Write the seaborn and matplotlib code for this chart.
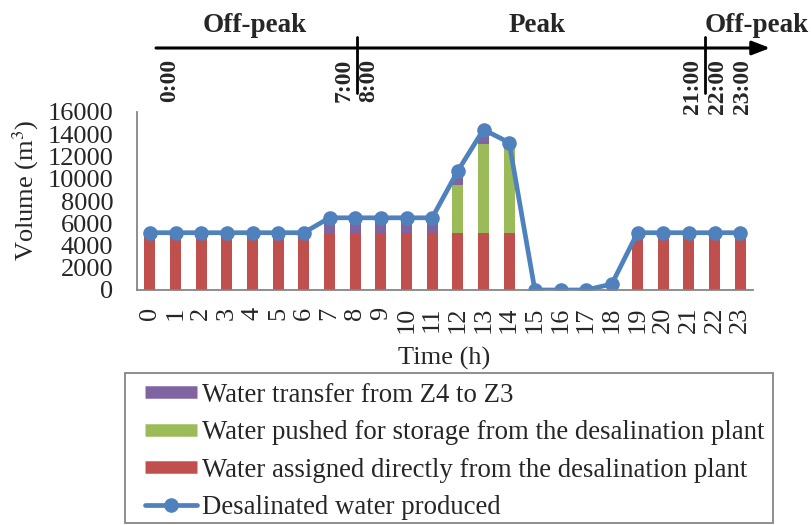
import numpy as np
import pandas as pd
import seaborn as sns
import matplotlib
matplotlib.use("Agg")
import matplotlib.pyplot as plt
from matplotlib.lines import Line2D
from matplotlib.patches import Rectangle

# ---------------- data ----------------
hours = list(range(24))
direct = [5150] * 15 + [0, 0, 0, 0] + [5150] * 5
storage = [0] * 12 + [4270, 7950, 8100] + [0] * 9
transfer = [0] * 7 + [1340] * 5 + [1290, 1320, 0] + [0] * 9
produced = [5150] * 7 + [6490] * 5 + [10710, 14420, 13250, 0, 0, 0, 540] + [5150] * 5

yticks = [0, 2000, 4000, 6000, 8000, 10000, 12000, 14000, 16000]

period_labels = ["Off-peak", "Peak", "Off-peak"]
time_marks = ["0:00", "7:00", "8:00", "21:00", "22:00", "23:00"]
time_mark_hours = [0, 7, 8, 21, 22, 23]

labels = ["Water transfer from Z4 to Z3",
          "Water pushed for storage from the desalination plant",
          "Water assigned directly from the desalination plant",
          "Desalinated water produced"]

c_red = "#C0504D"
c_green = "#9BBB59"
c_purple = "#8064A2"
c_blue = "#4F81BD"

df = pd.DataFrame({"hour": [str(h) for h in hours],
                   "direct": direct, "storage": storage, "transfer": transfer,
                   "produced": produced})
df["lvl2"] = df["direct"] + df["storage"]
df["lvl3"] = df["lvl2"] + df["transfer"]
df["x"] = hours

sns.set_theme(style="white")
plt.rcParams["font.family"] = ["Liberation Serif", "DejaVu Serif"]
plt.rcParams["mathtext.fontset"] = "stix"

W, H = 811, 525
fig = plt.figure(figsize=(W / 100, H / 100), dpi=100)
ax = fig.add_axes([137 / W, 1 - 290 / H, 616 / W, 178 / H])

bw = 0.42
sns.barplot(data=df, x="hour", y="lvl3", color=c_purple, width=bw, saturation=1,
            ax=ax, order=df["hour"])
sns.barplot(data=df, x="hour", y="lvl2", color=c_green, width=bw, saturation=1,
            ax=ax, order=df["hour"])
sns.barplot(data=df, x="hour", y="direct", color=c_red, width=bw, saturation=1,
            ax=ax, order=df["hour"])
for p in ax.patches:
    p.set_linewidth(0)
sns.lineplot(data=df, x="x", y="produced", color=c_blue, lw=3.4, marker="o",
             markersize=10.5, markeredgewidth=0, ax=ax)

ax.set_xlim(-0.5, 23.5)
ax.set_ylim(0, 16000)
ax.set_yticks(yticks)
ax.set_yticklabels([str(v) for v in yticks], fontsize=19)
ax.set_xticks(hours)
ax.set_xticklabels([str(h) for h in hours], rotation=90, fontsize=19)
ax.tick_params(axis="y", length=0, pad=17)
ax.tick_params(axis="x", length=0, pad=12)
for s in ["top", "right"]:
    ax.spines[s].set_visible(False)
for s in ["left", "bottom"]:
    ax.spines[s].set_color("#868686")
    ax.spines[s].set_linewidth(1.3)
ax.set_xlabel("")
ax.set_ylabel("")
fig.text(26 / W, 1 - 190 / H, "Volume (m$^3$)", rotation=90, ha="center", va="center",
         fontsize=19)
fig.text(444 / W, 1 - 358 / H, "Time (h)", ha="center", va="center", fontsize=19)

# legend
handles = [Line2D([], [], color=c_purple, lw=9, solid_capstyle="butt"),
           Line2D([], [], color=c_green, lw=9, solid_capstyle="butt"),
           Line2D([], [], color=c_red, lw=9, solid_capstyle="butt"),
           Line2D([], [], color=c_blue, lw=3.4, marker="o", markersize=10.5,
                  markeredgewidth=0)]
leg = fig.legend(handles, labels, loc="upper left",
                 bbox_to_anchor=(145 / W, 1 - 382.5 / H), fontsize=19.3,
                 frameon=False, handlelength=1.95, handletextpad=0.18,
                 labelspacing=0.47, borderpad=0, borderaxespad=0)

# timeline overlay
ov = fig.add_axes([0, 0, 1, 1], zorder=5)
ov.set_xlim(0, W)
ov.set_ylim(H, 0)
ov.axis("off")
ov.patch.set_alpha(0)
ov.add_patch(Rectangle((125, 373), 648, 150, fill=False, edgecolor="#868686", lw=1.3))


def hx(h):
    return 170 + 24.9 * h


ov.annotate("", xy=(770, 48), xytext=(156, 48),
            arrowprops=dict(arrowstyle="-|>,head_length=0.9,head_width=0.35",
                            color="black", lw=2.2, shrinkA=0, shrinkB=0))
for tx in [(hx(7) + hx(8)) / 2, (hx(21) + hx(22)) / 2]:
    ov.plot([tx, tx], [37, 93], color="black", lw=2)
ov.text(255, 25, period_labels[0], ha="center", va="center", fontsize=19.5,
        fontweight="bold")
ov.text(537, 25, period_labels[1], ha="center", va="center", fontsize=19.5,
        fontweight="bold")
ov.text(757, 25, period_labels[2], ha="center", va="center", fontsize=19.5,
        fontweight="bold")
for lab, h in zip(time_marks, time_mark_hours):
    ov.text(hx(h), 59, lab, rotation=90, ha="center", va="top", fontsize=17,
            fontweight="bold")

fig.savefig("out.png", dpi=100)
